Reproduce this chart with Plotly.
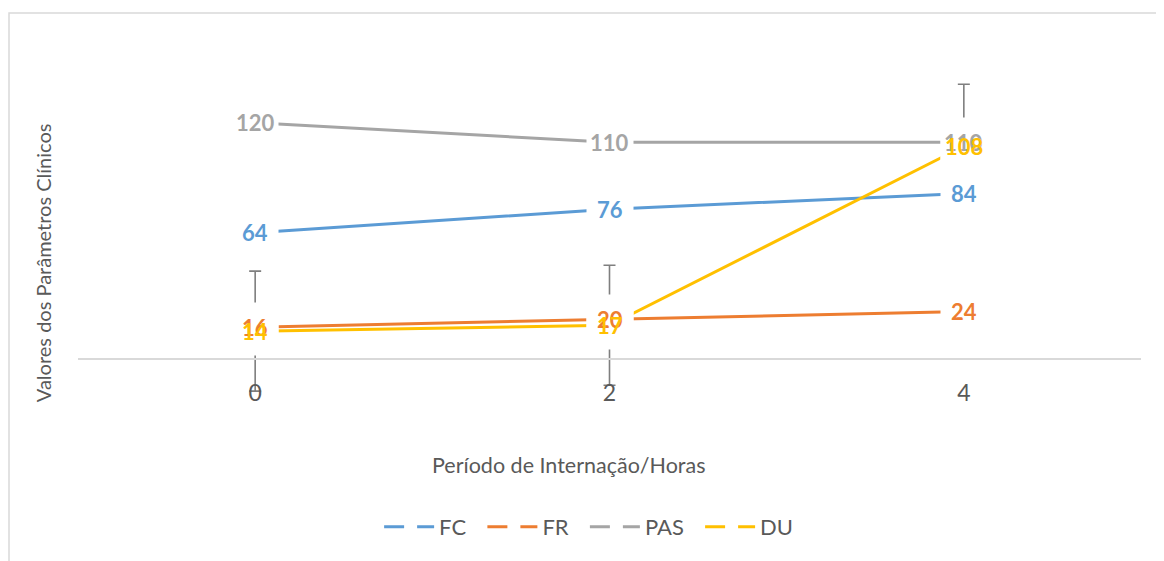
import plotly.graph_objects as go

# ---- data ----
hours = [0, 2, 4]
fc = [64, 76, 84]
fr = [16, 20, 24]
pas = [120, 110, 110]
du = [14, 17, 108]
du_err = [30.5, 30.5, 31.5]

series_names = ["FC", "FR", "PAS", "DU"]
series_values = [fc, fr, pas, du]
colors = ["#5B9BD5", "#ED7D31", "#A5A5A5", "#FFC000"]

FONT = "Lato"
AXIS_GRAY = "#595959"

fig = go.Figure()

# real lines
for name, vals, col in zip(series_names, series_values, colors):
    kw = {}
    if name == "DU":
        kw["error_y"] = dict(type="data", array=du_err, symmetric=True,
                             color="#7F7F7F", thickness=1.6, width=6)
    fig.add_trace(go.Scatter(x=hours, y=vals, mode="lines", name=name,
                             line=dict(color=col, width=3), showlegend=False,
                             hoverinfo="skip", **kw))

# legend-only entries (Excel style broken line sample)
for name, col in zip(series_names, colors):
    fig.add_trace(go.Scatter(x=[None], y=[None], mode="lines",
                             name=name + "\u00a0\u00a0",
                             line=dict(color=col, width=3, dash="20px,13px"),
                             showlegend=True))

annotations = []
# label boxes first (white background hides lines/error bars)
for vals in series_values:
    for x, v in zip(hours, vals):
        annotations.append(dict(x=x, y=v, xref="x", yref="y", text=str(v),
                                showarrow=False, bgcolor="white",
                                font=dict(family=FONT, size=22, color="rgba(0,0,0,0)"),
                                width=44, height=46, borderpad=1))
# label texts
for vals, col in zip(series_values, colors):
    for x, v in zip(hours, vals):
        annotations.append(dict(x=x, y=v, xref="x", yref="y",
                                text="<b>%d</b>" % v, showarrow=False,
                                font=dict(family=FONT, size=22, color=col)))

# axis titles
annotations.append(dict(x=0.462, y=-0.189, xref="paper", yref="paper",
                        text="Período de Internação/Horas", showarrow=False,
                        xanchor="center", yanchor="middle",
                        font=dict(family=FONT, size=21.5, color=AXIS_GRAY)))
annotations.append(dict(x=-0.0329, y=0.381, xref="paper", yref="paper",
                        text="Valores dos Parâmetros Clínicos", showarrow=False,
                        textangle=-90, xanchor="center", yanchor="middle",
                        font=dict(family=FONT, size=20, color=AXIS_GRAY)))

fig.update_layout(
    width=1156, height=553,
    margin=dict(l=70, r=23, t=36, b=163),
    paper_bgcolor="white", plot_bgcolor="white",
    font=dict(family=FONT, color=AXIS_GRAY),
    showlegend=True,
    legend=dict(orientation="h", x=0.486, y=-0.364, xanchor="center",
                yanchor="middle", font=dict(family=FONT, size=22, color=AXIS_GRAY),
                itemwidth=50, bgcolor="rgba(0,0,0,0)"),
    annotations=annotations,
    shapes=[dict(type="rect", xref="paper", yref="paper",
                 x0=-0.0649, x1=1.1, y0=-0.6, y1=1.0876,
                 line=dict(color="#D9D9D9", width=1.5), fillcolor="rgba(0,0,0,0)",
                 layer="below")],
    xaxis=dict(range=[-1, 5], tickvals=hours, ticktext=[str(h) for h in hours],
               showgrid=False, zeroline=False, showline=True,
               linecolor="#D9D9D9", linewidth=2,
               anchor="free", position=20 / 180,
               ticks="", ticklabelstandoff=14,
               tickfont=dict(family=FONT, size=23, color=AXIS_GRAY)),
    yaxis=dict(range=[-20, 160], showgrid=False, zeroline=False,
               showticklabels=False, showline=False, ticks=""),
)

fig.write_html("out.html")
